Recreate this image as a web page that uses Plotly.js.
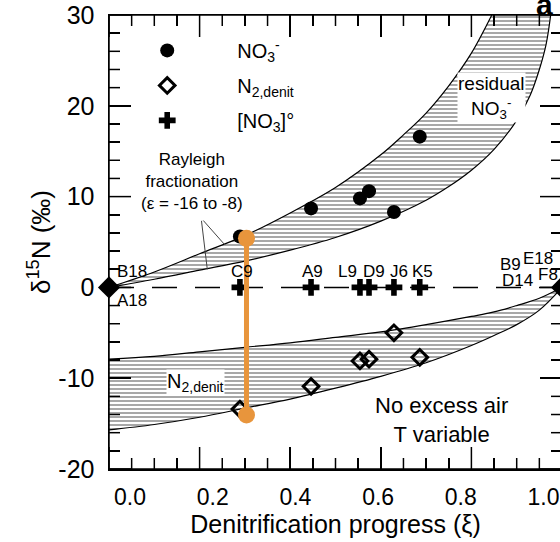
<!DOCTYPE html>
<html>
<head>
<meta charset="utf-8">
<script src="https://cdn.plot.ly/plotly-3.0.1.min.js"></script>
<style>
html,body{margin:0;padding:0;overflow:hidden;background:#fff;}
#chart{width:566px;height:542px;}
</style>
</head>
<body>
<div id="chart"></div>
<script>
// ---- data ----
const sampleLabels = ['C9', 'A9', 'L9', 'D9', 'J6', 'K5'];
const sampleXi = [0.289, 0.446, 0.554, 0.574, 0.629, 0.686];
const d15N_NO3 = [5.6, 8.7, 9.8, 10.6, 8.3, 16.6];
const d15N_N2denit = [-13.4, -10.9, -8.1, -7.9, -5.0, -7.7];
const d15N_NO3init = [0, 0, 0, 0, 0, 0];

const endXi = [0, 1];
const endD15N = [0, 0];

const orangeXi = [0.3035, 0.3035];
const orangeD15N = [5.4, -14.05];

// Rayleigh envelope, residual nitrate (eps = -16 upper, eps = -8 lower)
const resUpperXi = [0, 0.1, 0.2, 0.3, 0.4, 0.5, 0.6, 0.65, 0.7, 0.75, 0.8, 0.845];
const resUpperD = [0, 1.7, 3.7, 5.7, 8.2, 11.0, 14.6, 16.8, 19.2, 22.2, 25.8, 30];
const resLowerXi = [0, 0.1, 0.2, 0.3, 0.4, 0.5, 0.6, 0.7, 0.75, 0.8, 0.85, 0.9, 0.93, 0.95, 0.965, 0.975];
const resLowerD = [0, 0.9, 1.9, 2.9, 4.1, 5.5, 7.3, 9.6, 11.1, 12.9, 15.2, 18.4, 21.2, 24.0, 26.8, 30];

// Rayleigh envelope, accumulated N2 from denitrification
const n2Xi = [0, 0.1, 0.2, 0.3, 0.4, 0.5, 0.6, 0.7, 0.8, 0.85, 0.9, 0.95, 1.0];
const n2UpperD = [-7.9, -7.6, -7.1, -6.6, -6.1, -5.5, -4.9, -4.1, -3.2, -2.7, -2.0, -1.2, 0];
const n2LowerD = [-15.7, -15.1, -14.3, -13.3, -12.3, -11.1, -9.8, -8.3, -6.4, -5.3, -4.1, -2.5, 0];

// tick labels
const xTickVals = [0, 0.2, 0.4, 0.6, 0.8, 1.0];
const yTickVals = [-20, -10, 0, 10, 20, 30];
const yTickText = ['-20', '-10', '0', '10', '20', '30'];

// ---- styling / geometry ----
const FONT = 'Arial, "Liberation Sans", Helvetica, sans-serif';
const ORANGE = '#E8953C';
const hatch = {shape: '-', fgcolor: '#6e6e6e', bgcolor: 'white', size: 4, solidity: 0.3, fillmode: 'replace'};
const W = 566, H = 542, M = {l: 109, r: 4, t: 15, b: 73};
const X_RANGE = [0, 1], Y_RANGE = [-20, 30];
const MAJOR_LEN = 22, MINOR_LEN = 11, TICK_W = 1.5;
const X_MINOR = 0.05, X_MAJOR = 0.2, Y_MINOR = 2, Y_MAJOR = 10;

function polygon(xa, ya, xb, yb) {
  return {x: xa.concat(xb.slice().reverse()), y: ya.concat(yb.slice().reverse())};
}
const resPoly = polygon(resUpperXi, resUpperD, resLowerXi, resLowerD);
const n2Poly = polygon(n2Xi, n2UpperD, n2Xi, n2LowerD);

// inside tick marks on all four sides (lengths in px converted with the axis scales)
const pxPerX = (W - M.l - M.r) / (X_RANGE[1] - X_RANGE[0]);
const pxPerY = (H - M.t - M.b) / (Y_RANGE[1] - Y_RANGE[0]);
const tickX = [], tickY = [];
const nX = Math.round((X_RANGE[1] - X_RANGE[0]) / X_MINOR);
for (let k = 0; k <= nX; k++) {
  const v = X_RANGE[0] + k * X_MINOR;
  const len = (k % Math.round(X_MAJOR / X_MINOR) === 0 ? MAJOR_LEN : MINOR_LEN) / pxPerY;
  tickX.push(v, v, null, v, v, null);
  tickY.push(Y_RANGE[0], Y_RANGE[0] + len, null, Y_RANGE[1], Y_RANGE[1] - len, null);
}
const nY = Math.round((Y_RANGE[1] - Y_RANGE[0]) / Y_MINOR);
for (let k = 0; k <= nY; k++) {
  const v = Y_RANGE[0] + k * Y_MINOR;
  const len = (k % Math.round(Y_MAJOR / Y_MINOR) === 0 ? MAJOR_LEN : MINOR_LEN) / pxPerX;
  tickX.push(X_RANGE[0], X_RANGE[0] + len, null, X_RANGE[1], X_RANGE[1] - len, null);
  tickY.push(v, v, null, v, v, null);
}

const traces = [
  {x: resPoly.x, y: resPoly.y, mode: 'lines', fill: 'toself', fillcolor: 'white', fillpattern: hatch,
   line: {width: 0, color: 'rgba(0,0,0,0)'}, showlegend: false, hoverinfo: 'skip'},
  {x: n2Poly.x, y: n2Poly.y, mode: 'lines', fill: 'toself', fillcolor: 'white', fillpattern: hatch,
   line: {width: 0, color: 'rgba(0,0,0,0)'}, showlegend: false, hoverinfo: 'skip'},
  {x: tickX, y: tickY, mode: 'lines', connectgaps: false, line: {color: 'black', width: TICK_W},
   showlegend: false, hoverinfo: 'skip', cliponaxis: false},
  {x: resUpperXi, y: resUpperD, mode: 'lines', line: {color: 'black', width: 1.2, shape: 'spline'}, showlegend: false, hoverinfo: 'skip'},
  {x: resLowerXi, y: resLowerD, mode: 'lines', line: {color: 'black', width: 1.2, shape: 'spline'}, showlegend: false, hoverinfo: 'skip'},
  {x: n2Xi, y: n2UpperD, mode: 'lines', line: {color: 'black', width: 1.2, shape: 'spline'}, showlegend: false, hoverinfo: 'skip'},
  {x: n2Xi, y: n2LowerD, mode: 'lines', line: {color: 'black', width: 1.2, shape: 'spline'}, showlegend: false, hoverinfo: 'skip'},
  {x: sampleXi, y: d15N_NO3, mode: 'markers', name: 'NO<sub>3</sub><sup>-</sup>', legendgroup: 'a',
   marker: {symbol: 'circle', size: 14, color: 'black'}},
  {x: sampleXi, y: d15N_N2denit, mode: 'markers', name: 'N<sub>2,denit</sub>', legendgroup: 'b',
   marker: {symbol: 'diamond-open', size: 12, color: 'black', line: {width: 3, color: 'black'}}},
  {x: sampleXi, y: d15N_NO3init, mode: 'markers', name: '[NO<sub>3</sub>]°', legendgroup: 'c',
   marker: {symbol: 'cross', size: 14, color: 'black', line: {width: 0}}},
  {x: endXi, y: endD15N, mode: 'markers', showlegend: false,
   marker: {symbol: 'diamond', size: 17, color: 'black'}, cliponaxis: false},
  {x: orangeXi, y: orangeD15N, mode: 'lines+markers', showlegend: false,
   line: {color: ORANGE, width: 5}, marker: {size: 17, color: ORANGE}},
  {x: [null], y: [null], xaxis: 'x2', yaxis: 'y', mode: 'markers', showlegend: false, hoverinfo: 'skip'}
];

const annotations = [];
const labelShift = [2, 1, -12, 5, 5, 3];
sampleLabels.forEach((t, i) => {
  annotations.push({x: sampleXi[i], y: 0, xref: 'x', yref: 'y', text: t, showarrow: false,
    xshift: labelShift[i], yshift: 16, font: {size: 17}});
});
const endLabels = [
  {t: 'B18', i: 0, dx: 23, dy: 16}, {t: 'A18', i: 0, dx: 23, dy: -13},
  {t: 'B9', i: 1, dx: -52, dy: 23}, {t: 'E18', i: 1, dx: -24, dy: 29},
  {t: 'D14', i: 1, dx: -45, dy: 7}, {t: 'F8', i: 1, dx: -14, dy: 13}
];
endLabels.forEach(e => {
  annotations.push({x: endXi[e.i], y: endD15N[e.i], xref: 'x', yref: 'y', text: e.t, showarrow: false,
    xshift: e.dx, yshift: e.dy, font: {size: 17}});
});
annotations.push(
  {x: 0.845, y: 20.9, xref: 'x', yref: 'y', text: 'residual<br>NO<sub>3</sub><sup>-</sup>', showarrow: false,
   font: {size: 19}, bgcolor: 'white', borderpad: 0},
  {x: 0.183, y: 11.7, xref: 'x', yref: 'y', text: 'Rayleigh<br>fractionation<br>(ε = -16 to -8)', showarrow: false,
   font: {size: 17}},
  {x: 0.19, y: -10.5, xref: 'x', yref: 'y', text: 'N<sub>2,denit</sub>', showarrow: false,
   font: {size: 20}, bgcolor: 'white', borderpad: 0},
  {x: 0.735, y: -14.6, xref: 'x', yref: 'y', text: 'No excess air<br>T variable', showarrow: false,
   font: {size: 22}},
  {x: 0.256, y: 4.67, xref: 'x', yref: 'y', text: '', showarrow: true, arrowhead: 0, arrowwidth: 1,
   ax: -23, ay: -26, standoff: 0, startstandoff: 0},
  {x: 0.217, y: 1.99, xref: 'x', yref: 'y', text: '', showarrow: true, arrowhead: 0, arrowwidth: 1,
   ax: -6, ay: -50, standoff: 0, startstandoff: 0},
  {x: 0.962, y: 1, xref: 'paper', yref: 'paper', text: '<b>a</b>', showarrow: false,
   xanchor: 'center', yanchor: 'bottom', yshift: -8, font: {size: 30}}
);

const layout = {
  width: W, height: H,
  margin: {l: M.l, r: M.r, t: M.t, b: M.b, pad: 0},
  paper_bgcolor: 'white', plot_bgcolor: 'white',
  font: {family: FONT, color: 'black'},
  showlegend: true,
  legend: {x: -0.026, y: 0.965, xanchor: 'left', yanchor: 'top', bgcolor: 'rgba(0,0,0,0)',
    font: {size: 20}, tracegroupgap: 6, itemwidth: 130},
  xaxis: {range: X_RANGE, showline: true, linecolor: 'black', linewidth: 1.5, mirror: 'ticks',
    ticks: 'inside', ticklen: MAJOR_LEN, tickwidth: TICK_W, tickcolor: 'black', tick0: 0, dtick: X_MAJOR,
    minor: {dtick: X_MINOR, ticks: 'inside', ticklen: MINOR_LEN, tickwidth: TICK_W, tickcolor: 'black'},
    showticklabels: false, showgrid: false, zeroline: false},
  xaxis2: {overlaying: 'x', anchor: 'y', side: 'bottom', range: [-0.0508, 1.0447],
    tickvals: xTickVals, tickformat: '.1f', ticks: '', showline: false, showgrid: false, zeroline: false,
    tickfont: {size: 23}, ticklabelstandoff: 12,
    title: {text: 'Denitrification progress (ξ)', font: {size: 25}, standoff: 6}},
  yaxis: {range: Y_RANGE, showline: true, linecolor: 'black', linewidth: 1.5, mirror: 'ticks',
    ticks: 'inside', ticklen: MAJOR_LEN, tickwidth: TICK_W, tickcolor: 'black',
    tickmode: 'array', tickvals: yTickVals, ticktext: yTickText,
    minor: {tick0: 0, dtick: Y_MINOR, ticks: 'inside', ticklen: MINOR_LEN, tickwidth: TICK_W, tickcolor: 'black'},
    tickfont: {size: 25}, ticklabelstandoff: 8, showgrid: false, zeroline: false,
    title: {text: 'δ<sup>15</sup>N (‰)', font: {size: 26}, standoff: 0}},
  shapes: [
    {type: 'line', xref: 'paper', x0: 0, x1: 1, yref: 'y', y0: 0, y1: 0, layer: 'below',
     line: {color: 'black', width: 1.5, dash: '25px,18px'}},
    {type: 'rect', xref: 'paper', yref: 'paper', x0: 0, x1: 1, y0: 0, y1: 1, layer: 'above',
     line: {color: 'black', width: 1.5}, fillcolor: 'rgba(0,0,0,0)'}
  ],
  annotations: annotations
};

Plotly.newPlot('chart', traces, layout, {displayModeBar: false, staticPlot: true});
</script>
</body>
</html>
